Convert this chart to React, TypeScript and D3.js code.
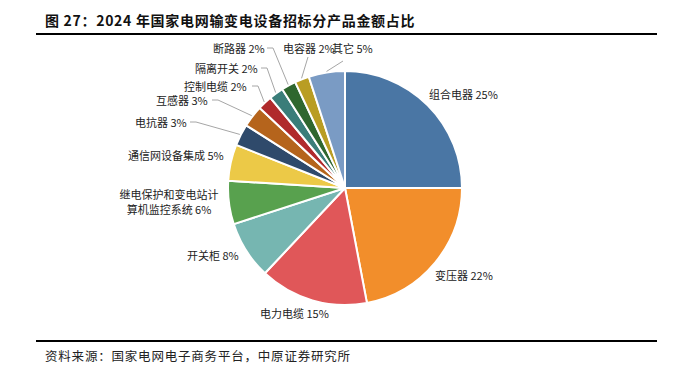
import React from "react";
import * as d3 from "d3";

const categories = [
  "组合电器", "变压器", "电力电缆", "开关柜", "继电保护和变电站计算机监控系统",
  "通信网设备集成", "电抗器", "互感器", "控制电缆", "隔离开关", "断路器", "电容器", "其它",
];
const shares = [25, 22, 15, 8, 6, 5, 3, 3, 2, 2, 2, 2, 5];
const colors = [
  "#4a76a4", "#f28e2b", "#e05759", "#76b6b1", "#58a14e", "#ecc947",
  "#2f4a6b", "#b5641c", "#b02a2c", "#3a7d79", "#2f672f", "#b99d23", "#7a9bc4",
];
const title = "图 27：2024 年国家电网输变电设备招标分产品金额占比";
const source = "资料来源：国家电网电子商务平台，中原证券研究所";

// label layout: x,y text anchor point; lx,ly leader start (null = no leader); wrap index
const labelLayout = [
  { x: 429, y: 94, anchor: "start", lx: null, ly: null, wrap: 0 },
  { x: 435, y: 275, anchor: "start", lx: null, ly: null, wrap: 0 },
  { x: 260, y: 313, anchor: "start", lx: null, ly: null, wrap: 0 },
  { x: 187, y: 255, anchor: "start", lx: null, ly: null, wrap: 0 },
  { x: 169, y: 194, anchor: "middle", lx: null, ly: null, wrap: 9 },
  { x: 128, y: 155, anchor: "start", lx: null, ly: null, wrap: 0 },
  { x: 135, y: 122, anchor: "start", lx: 190, ly: 122, wrap: 0 },
  { x: 156, y: 100, anchor: "start", lx: 212, ly: 100, wrap: 0 },
  { x: 184, y: 86, anchor: "start", lx: 252, ly: 86, wrap: 0 },
  { x: 195, y: 68, anchor: "start", lx: 261, ly: 68, wrap: 0 },
  { x: 213, y: 48, anchor: "start", lx: 267, ly: 48, wrap: 0 },
  { x: 283, y: 48, anchor: "start", lx: 308, ly: 57, wrap: 0 },
  { x: 332, y: 48, anchor: "start", lx: 343, ly: 61, wrap: 0 },
];

const W = 682;
const H = 372;
const cx = 345;
const cy = 188;
const R = 117;

export default function App() {
  const data = categories.map((c, i) => ({ name: c, value: shares[i], color: colors[i] }));
  const pie = d3.pie<any>().value((d: any) => d.value).sort(null).startAngle(0).endAngle(2 * Math.PI);
  const arcs = pie(data);
  const arc = d3.arc<any>().innerRadius(0).outerRadius(R);
  const font = "'Noto Sans CJK SC', 'Noto Sans', sans-serif";

  return (
    <svg width={W} height={H} style={{ position: "absolute", left: 0, top: 0, background: "#fff" }}>
      <text x={45} y={20} fontFamily={font} fontSize={14} fontWeight="bold" fill="#111" dominantBaseline="central" letterSpacing={0.7}>
        {title}
      </text>
      <line x1={36} x2={657} y1={34} y2={34} stroke="#000" strokeWidth={2} />
      <g transform={`translate(${cx},${cy})`}>
        {arcs.map((a, i) => (
          <path key={i} d={arc(a) as string} fill={a.data.color} stroke="#fff" strokeWidth={2} strokeLinejoin="round" />
        ))}
      </g>
      {arcs.map((a, i) => {
        const L = labelLayout[i];
        const mid = (a.startAngle + a.endAngle) / 2;
        const ex = cx + (R + 1) * Math.sin(mid);
        const ey = cy - (R + 1) * Math.cos(mid);
        const txt = `${a.data.name} ${a.data.value}%`;
        return (
          <g key={"l" + i}>
            {L.lx !== null && (
              <polyline
                points={
                  L.anchor === "start" && L.ly === L.y
                    ? `${L.lx},${L.ly} ${L.lx + 6},${L.ly} ${ex},${ey}`
                    : `${L.lx},${L.ly} ${ex},${ey}`
                }
                fill="none"
                stroke="#a6a6a6"
                strokeWidth={1}
              />
            )}
            {L.wrap > 0 ? (
              <g>
                <text x={L.x} y={L.y} fontFamily={font} fontSize={11} fill="#222" textAnchor={L.anchor as any} dominantBaseline="central">
                  {txt.slice(0, L.wrap)}
                </text>
                <text x={L.x} y={L.y + 15} fontFamily={font} fontSize={11} fill="#222" textAnchor={L.anchor as any} dominantBaseline="central">
                  {txt.slice(L.wrap)}
                </text>
              </g>
            ) : (
              <text x={L.x} y={L.y} fontFamily={font} fontSize={11} fill="#222" textAnchor={L.anchor as any} dominantBaseline="central">
                {txt}
              </text>
            )}
          </g>
        );
      })}
      <line x1={36} x2={657} y1={341} y2={341} stroke="#000" strokeWidth={2} />
      <text x={45} y={355} fontFamily={font} fontSize={12.5} fill="#222" dominantBaseline="central" letterSpacing={0.8}>
        {source}
      </text>
    </svg>
  );
}
